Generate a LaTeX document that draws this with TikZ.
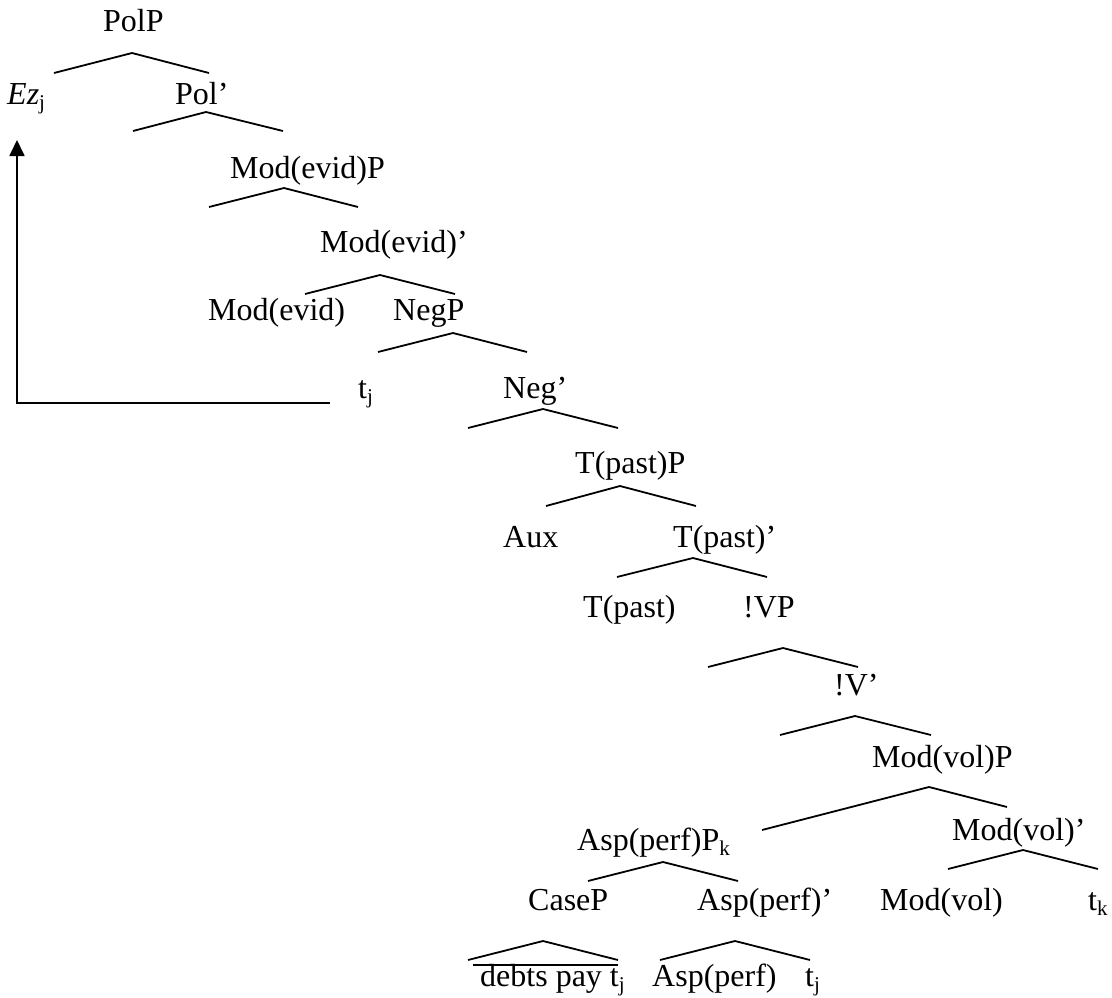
\documentclass[tikz,border=0pt]{standalone}
\usepackage{fontspec}
\setmainfont{Liberation Serif}
\usetikzlibrary{arrows.meta}
\newcommand{\sbs}[1]{\raisebox{-0.18em}{\fontsize{21}{24}\selectfont #1}}
\begin{document}
\begin{tikzpicture}[x=1pt,y=-1pt,
  lbl/.style={anchor=base west, inner sep=0pt, font=\fontsize{32}{38}\selectfont},
  branch/.style={line width=1.8pt, line join=miter},
  arrowline/.style={line width=1.8pt, -{Triangle[length=16pt,width=15pt]}}]
\useasboundingbox (0,0) rectangle (1112,998);
% labels
\node[lbl] (polp) at (103,32) {PolP};
\node[lbl] (ez) at (7,104) {\textit{Ez}\sbs{j}};
\node[lbl] (polb) at (175,104) {Pol'};
\node[lbl] (mep) at (230,178) {Mod(evid)P};
\node[lbl] (meb) at (320,252) {Mod(evid)'};
\node[lbl] (me) at (208,320) {Mod(evid)};
\node[lbl] (negp) at (393,320) {NegP};
\node[lbl] (tj1) at (358,398) {t\sbs{j}};
\node[lbl] (negb) at (503,398) {Neg'};
\node[lbl] (tpp) at (575,473) {T(past)P};
\node[lbl] (aux) at (503,547) {Aux};
\node[lbl] (tpb) at (673,547) {T(past)'};
\node[lbl] (tp) at (583,617) {T(past)};
\node[lbl] (vp) at (743,617) {!VP};
\node[lbl] (vb) at (834,695) {!V'};
\node[lbl] (mvp) at (872,767) {Mod(vol)P};
\node[lbl] (app) at (577,850) {Asp(perf)P\sbs{k}};
\node[lbl] (mvb) at (952,840) {Mod(vol)'};
\node[lbl] (casep) at (528,910) {CaseP};
\node[lbl] (apb) at (697,910) {Asp(perf)'};
\node[lbl] (mv) at (880,910) {Mod(vol)};
\node[lbl] (tk) at (1088,910) {t\sbs{k}};
\node[lbl] (debts) at (480,986) {debts pay t\sbs{j}};
\node[lbl] (ap) at (652,986) {Asp(perf)};
\node[lbl] (tj2) at (805,986) {t\sbs{j}};
% branch coordinates
\coordinate (b1l) at (54,73);   \coordinate (b1) at (132,53);  \coordinate (b1r) at (209,73);
\coordinate (b2l) at (133,131); \coordinate (b2) at (206,112); \coordinate (b2r) at (283,131);
\coordinate (b3l) at (209,207); \coordinate (b3) at (284,188); \coordinate (b3r) at (358,207);
\coordinate (b4l) at (305,294); \coordinate (b4) at (380,275); \coordinate (b4r) at (455,294);
\coordinate (b5l) at (378,352); \coordinate (b5) at (453,333); \coordinate (b5r) at (527,352);
\coordinate (b6l) at (468,428); \coordinate (b6) at (543,409); \coordinate (b6r) at (618,428);
\coordinate (b7l) at (546,506); \coordinate (b7) at (620,486); \coordinate (b7r) at (696,506);
\coordinate (b8l) at (617,577); \coordinate (b8) at (693,558); \coordinate (b8r) at (767,577);
\coordinate (b9l) at (708,667); \coordinate (b9) at (783,648); \coordinate (b9r) at (858,667);
\coordinate (b10l) at (780,735); \coordinate (b10) at (855,716); \coordinate (b10r) at (931,735);
\coordinate (b11l) at (762,830); \coordinate (b11) at (929,787); \coordinate (b11r) at (1007,807);
\coordinate (b12l) at (948,869); \coordinate (b12) at (1023,850); \coordinate (b12r) at (1098,869);
\coordinate (b13l) at (588,881); \coordinate (b13) at (663,862); \coordinate (b13r) at (738,881);
\coordinate (b14l) at (468,960); \coordinate (b14) at (543,941); \coordinate (b14r) at (618,960);
\coordinate (b15l) at (660,960); \coordinate (b15) at (735,941); \coordinate (b15r) at (810,960);
\coordinate (ovl) at (473,965); \coordinate (ovr) at (618,965);
\foreach \i in {1,...,15} {\draw[branch] (b\i l) -- (b\i) -- (b\i r);}
\draw[line width=1.8pt] (ovl) -- (ovr);
% movement arrow
\coordinate (arS) at (330,403);
\coordinate (arC) at (17,403);
\coordinate (arE) at (17,140);
\draw[arrowline] (arS) -- (arC) -- (arE);
\end{tikzpicture}
\end{document}
